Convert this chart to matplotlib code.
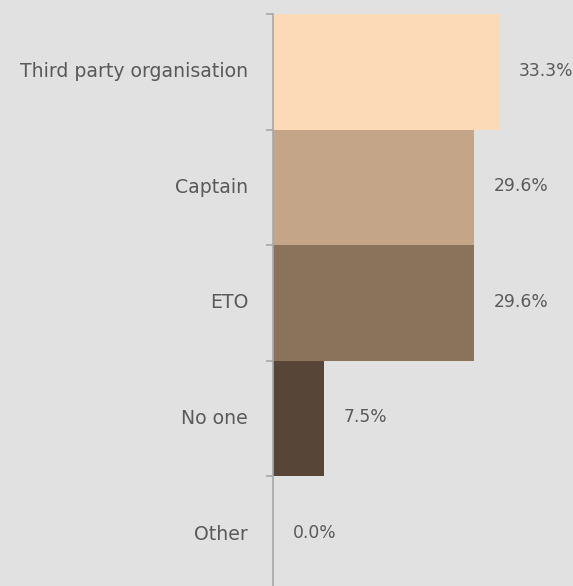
import matplotlib.pyplot as plt
import numpy as np

categories = ["Third party organisation", "Captain", "ETO", "No one", "Other"]
values = [33.3, 29.6, 29.6, 7.5, 0.0]
colors = ["#fcd9b7", "#c4a587", "#8b735b", "#574537", "#574537"]

bg = "#e1e1e1"
text_color = "#5a5a5a"
line_color = "#a8a8a8"
px = 72 / 100  # points per pixel

plt.rcParams['font.family'] = ['DejaVu Sans']

fig = plt.figure(figsize=(5.73, 5.86), dpi=100, facecolor=bg)
ax = fig.add_axes([273 / 573, -6 / 586, 300 / 573, 578 / 586], facecolor=bg)

y = np.arange(len(categories))
ax.barh(y, values, height=1.0, color=colors, edgecolor="none")

for yi, v in zip(y, values):
    ax.text(v + 20 / 6.79, yi - 0.01, f"{v:.1f}%", va="center", ha="left",
            fontsize=12.3, color=text_color)

ax.set_xlim(0, 300 / 6.79)
ax.set_ylim(len(categories) - 0.5, -0.5)

ax.set_yticks(y)
ax.set_yticklabels(categories, fontsize=13.6, color=text_color)
for lbl in ax.get_yticklabels():
    lbl.set_verticalalignment("center")
ax.tick_params(axis="y", length=0, pad=25 * px)
# boundary ticks between categories
ax.set_yticks(np.arange(len(categories)) - 0.5, minor=True)
ax.tick_params(axis="y", which="minor", length=7 * px, width=1.2, color=line_color)
ax.set_xticks([])

for side in ["top", "right", "bottom"]:
    ax.spines[side].set_visible(False)
ax.spines["left"].set_color(line_color)
ax.spines["left"].set_linewidth(1.2)

fig.savefig("out.png", dpi=100, facecolor=bg)
